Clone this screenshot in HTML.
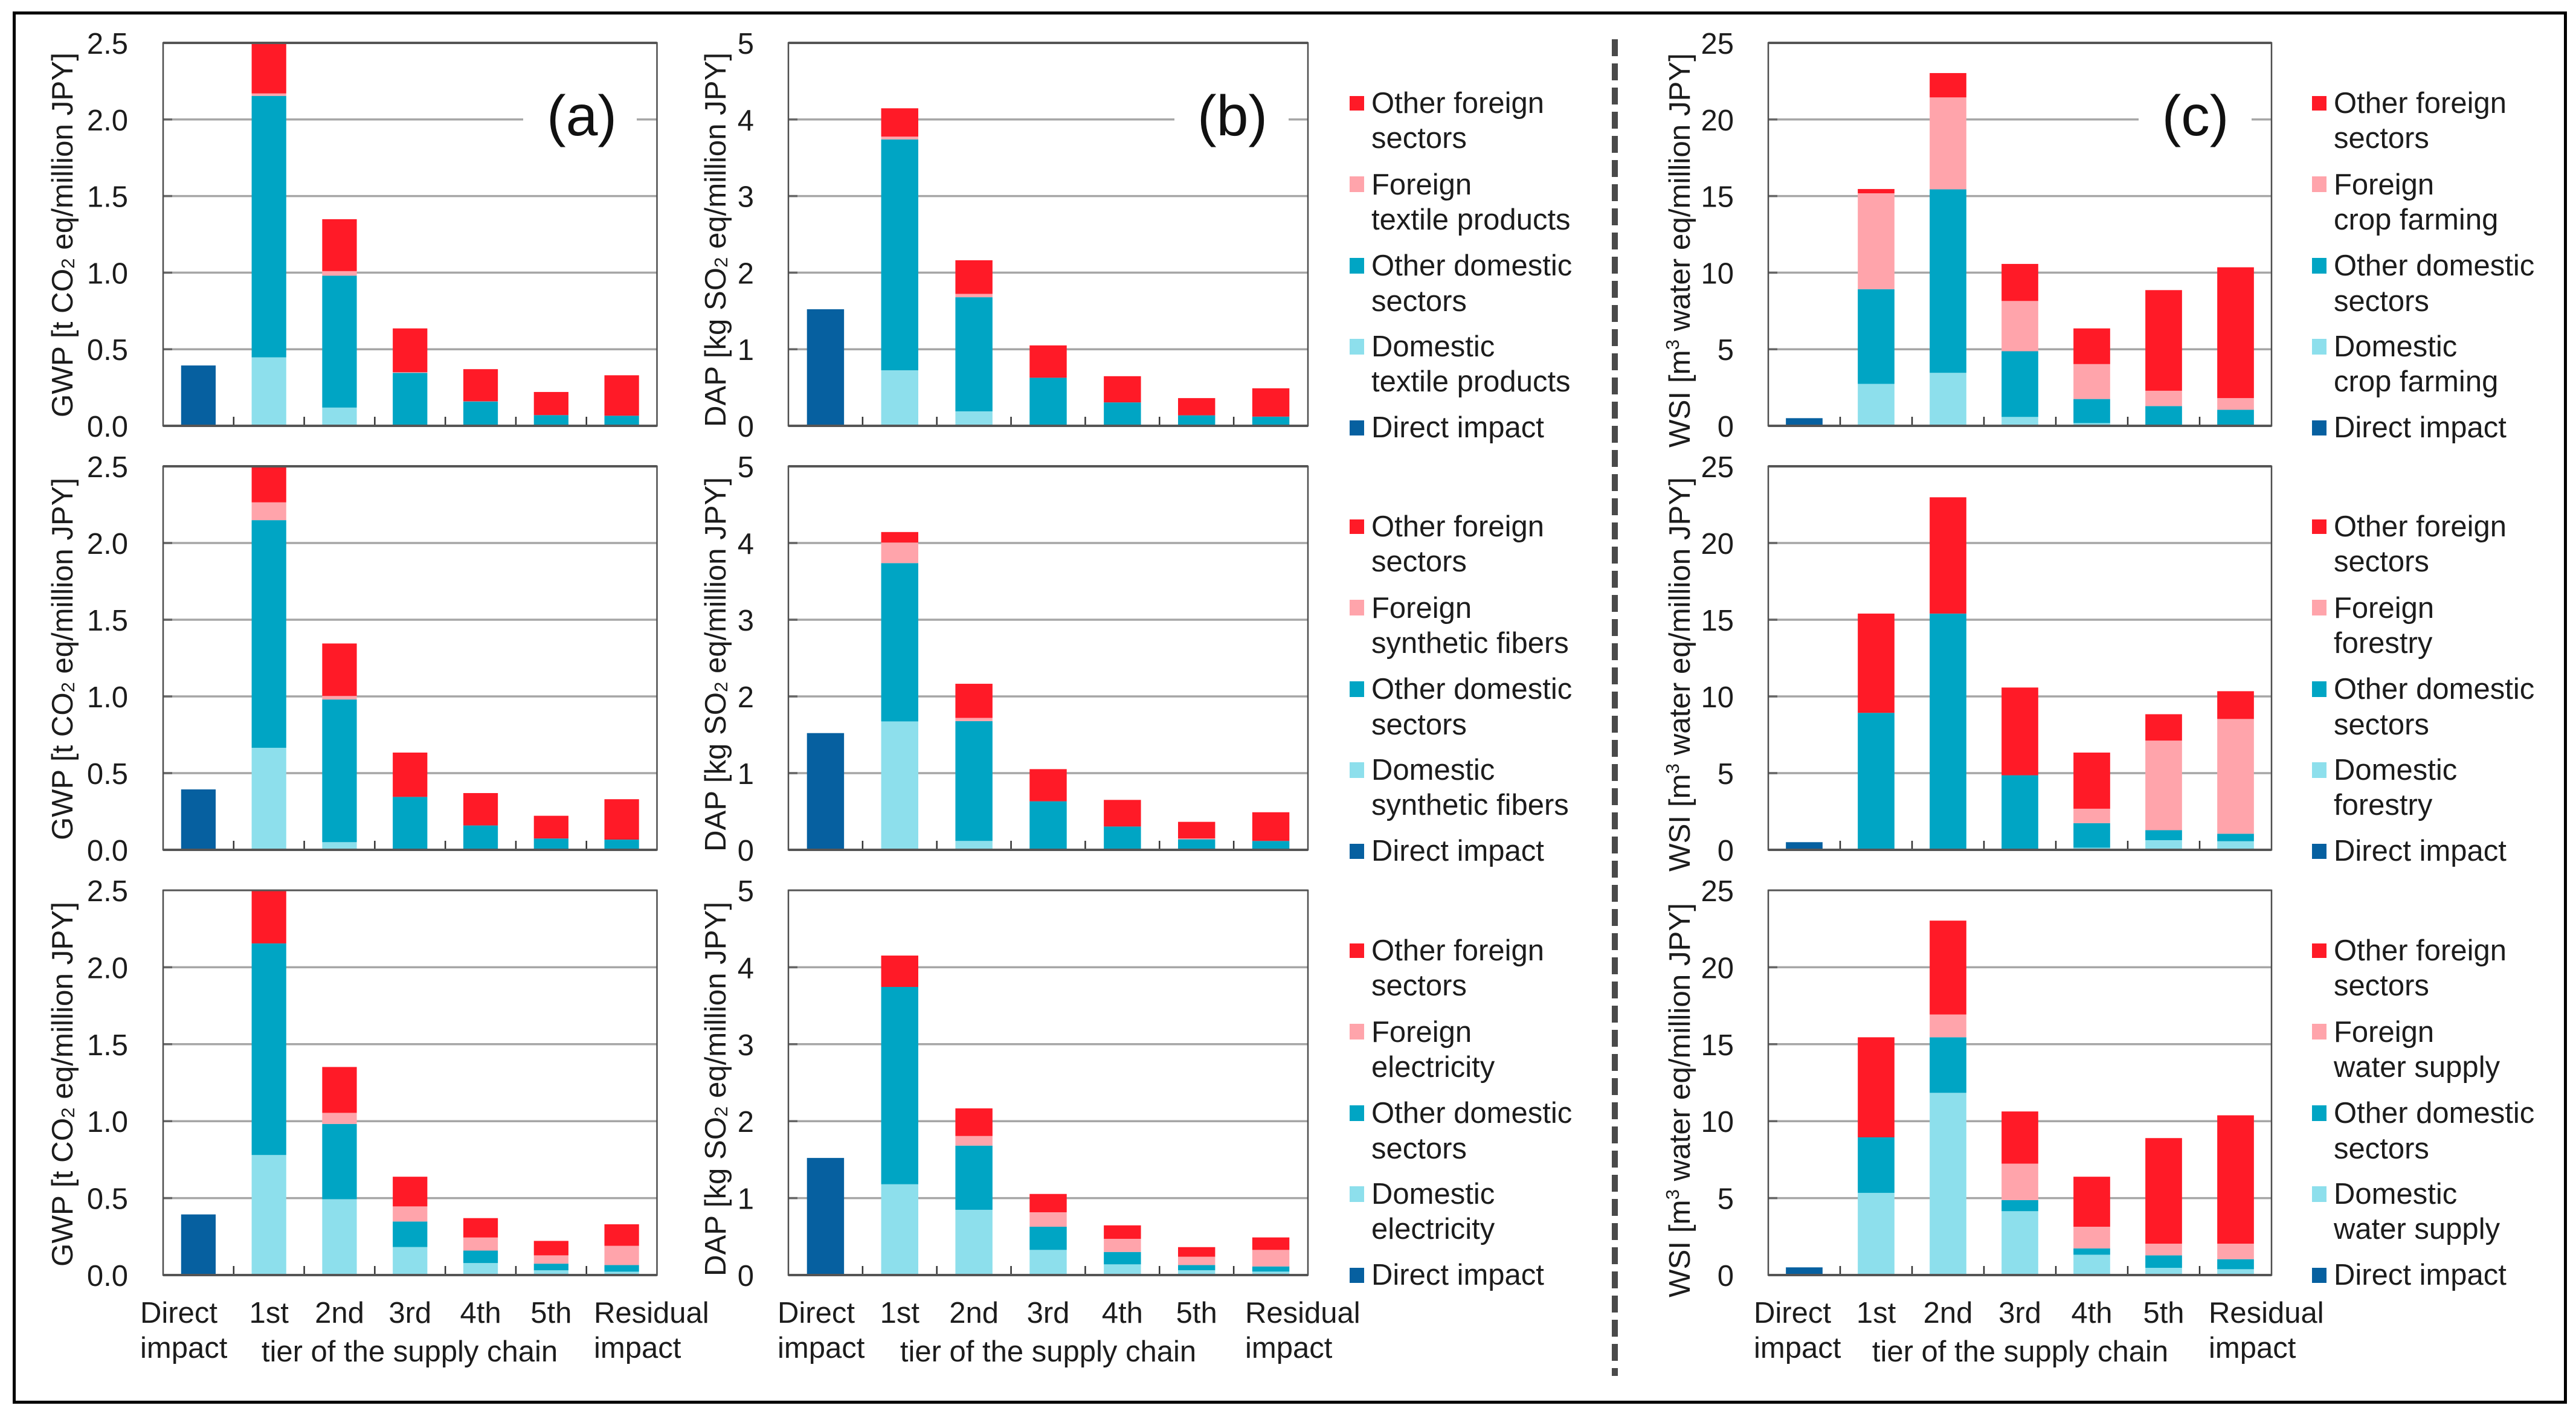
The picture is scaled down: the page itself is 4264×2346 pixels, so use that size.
<!DOCTYPE html>
<html lang="en">
<head>
<meta charset="utf-8">
<title>Supply chain impact by tier</title>
<style>
html,body{margin:0;padding:0;background:#fff;}
svg{display:block;}
text{font-family:"Liberation Sans",Arial,sans-serif;font-size:49px;fill:#1c1c1c;}
.panel-letter{font-size:95px;fill:#111;}
.sw-red{fill:#ff1a27;}.sw-for{fill:#ffa4ab;}.sw-od{fill:#00a5c4;}.sw-dom{fill:#8ddfec;}.sw-dir{fill:#0660a0;}
</style>
</head>
<body>
<svg id="figure" xmlns="http://www.w3.org/2000/svg" width="4264" height="2346" viewBox="0 0 4264 2346">
<rect x="0" y="0" width="4264" height="2346" fill="#fff"/>
<rect x="23.5" y="21.5" width="4223" height="2300" fill="none" stroke="#000" stroke-width="5"/>
<line x1="2673" y1="65" x2="2673" y2="2278" stroke="#4a4a4a" stroke-width="10" stroke-dasharray="28 12"/>

<g id="plots"></g>

<!-- y axis titles -->
<text transform="translate(120,691) rotate(-90)" textLength="604" lengthAdjust="spacingAndGlyphs">GWP [t CO<tspan font-size="31" dy="3">2</tspan><tspan dy="-3"> eq/million JPY]</tspan></text>
<text transform="translate(120,1391) rotate(-90)" textLength="600" lengthAdjust="spacingAndGlyphs">GWP [t CO<tspan font-size="31" dy="3">2</tspan><tspan dy="-3"> eq/million JPY]</tspan></text>
<text transform="translate(120,2097) rotate(-90)" textLength="604" lengthAdjust="spacingAndGlyphs">GWP [t CO<tspan font-size="31" dy="3">2</tspan><tspan dy="-3"> eq/million JPY]</tspan></text>
<text transform="translate(1201,707) rotate(-90)" textLength="620" lengthAdjust="spacingAndGlyphs">DAP [kg SO<tspan font-size="31" dy="3">2</tspan><tspan dy="-3"> eq/million JPY]</tspan></text>
<text transform="translate(1201,1410) rotate(-90)" textLength="620" lengthAdjust="spacingAndGlyphs">DAP [kg SO<tspan font-size="31" dy="3">2</tspan><tspan dy="-3"> eq/million JPY]</tspan></text>
<text transform="translate(1201,2113) rotate(-90)" textLength="620" lengthAdjust="spacingAndGlyphs">DAP [kg SO<tspan font-size="31" dy="3">2</tspan><tspan dy="-3"> eq/million JPY]</tspan></text>
<text transform="translate(2797,741) rotate(-90)" textLength="653" lengthAdjust="spacingAndGlyphs">WSI [m<tspan font-size="31" dy="-18">3</tspan><tspan dy="18"> water eq/million JPY]</tspan></text>
<text transform="translate(2797,1443) rotate(-90)" textLength="653" lengthAdjust="spacingAndGlyphs">WSI [m<tspan font-size="31" dy="-18">3</tspan><tspan dy="18"> water eq/million JPY]</tspan></text>
<text transform="translate(2797,2148) rotate(-90)" textLength="653" lengthAdjust="spacingAndGlyphs">WSI [m<tspan font-size="31" dy="-18">3</tspan><tspan dy="18"> water eq/million JPY]</tspan></text>

<!-- x axis labels: panel a -->
<text x="232" y="2190">Direct</text>
<text x="232" y="2248">impact</text>
<text x="983" y="2190">Residual</text>
<text x="983" y="2248">impact</text>
<text x="678" y="2254" text-anchor="middle">tier of the supply chain</text>
<!-- x axis labels: panel b -->
<text x="1287" y="2190">Direct</text>
<text x="1287" y="2248">impact</text>
<text x="2061" y="2190">Residual</text>
<text x="2061" y="2248">impact</text>
<text x="1735" y="2254" text-anchor="middle">tier of the supply chain</text>
<!-- x axis labels: panel c -->
<text x="2903" y="2190">Direct</text>
<text x="2903" y="2248">impact</text>
<text x="3656" y="2190">Residual</text>
<text x="3656" y="2248">impact</text>
<text x="3344" y="2254" text-anchor="middle">tier of the supply chain</text>

<!-- legends -->
<g transform="translate(2234,73)">
<rect class="sw-red" x="0" y="86" width="24" height="24"/><text x="36" y="114">Other foreign</text><text x="36" y="172">sectors</text>
<rect class="sw-for" x="0" y="219" width="24" height="26"/><text x="36" y="249">Foreign</text><text x="36" y="307">textile products</text>
<rect class="sw-od" x="0" y="354" width="24" height="26"/><text x="36" y="383">Other domestic</text><text x="36" y="442">sectors</text>
<rect class="sw-dom" x="0" y="488" width="24" height="26"/><text x="36" y="517">Domestic</text><text x="36" y="575">textile products</text>
<rect class="sw-dir" x="0" y="623" width="24" height="25"/><text x="36" y="651">Direct impact</text>
</g>
<g transform="translate(2234,774)">
<rect class="sw-red" x="0" y="86" width="24" height="24"/><text x="36" y="114">Other foreign</text><text x="36" y="172">sectors</text>
<rect class="sw-for" x="0" y="219" width="24" height="26"/><text x="36" y="249">Foreign</text><text x="36" y="307">synthetic fibers</text>
<rect class="sw-od" x="0" y="354" width="24" height="26"/><text x="36" y="383">Other domestic</text><text x="36" y="442">sectors</text>
<rect class="sw-dom" x="0" y="488" width="24" height="26"/><text x="36" y="517">Domestic</text><text x="36" y="575">synthetic fibers</text>
<rect class="sw-dir" x="0" y="623" width="24" height="25"/><text x="36" y="651">Direct impact</text>
</g>
<g transform="translate(2234,1476)">
<rect class="sw-red" x="0" y="86" width="24" height="24"/><text x="36" y="114">Other foreign</text><text x="36" y="172">sectors</text>
<rect class="sw-for" x="0" y="219" width="24" height="26"/><text x="36" y="249">Foreign</text><text x="36" y="307">electricity</text>
<rect class="sw-od" x="0" y="354" width="24" height="26"/><text x="36" y="383">Other domestic</text><text x="36" y="442">sectors</text>
<rect class="sw-dom" x="0" y="488" width="24" height="26"/><text x="36" y="517">Domestic</text><text x="36" y="575">electricity</text>
<rect class="sw-dir" x="0" y="623" width="24" height="25"/><text x="36" y="651">Direct impact</text>
</g>
<g transform="translate(3827,73)">
<rect class="sw-red" x="0" y="86" width="24" height="24"/><text x="36" y="114">Other foreign</text><text x="36" y="172">sectors</text>
<rect class="sw-for" x="0" y="219" width="24" height="26"/><text x="36" y="249">Foreign</text><text x="36" y="307">crop farming</text>
<rect class="sw-od" x="0" y="354" width="24" height="26"/><text x="36" y="383">Other domestic</text><text x="36" y="442">sectors</text>
<rect class="sw-dom" x="0" y="488" width="24" height="26"/><text x="36" y="517">Domestic</text><text x="36" y="575">crop farming</text>
<rect class="sw-dir" x="0" y="623" width="24" height="25"/><text x="36" y="651">Direct impact</text>
</g>
<g transform="translate(3827,774)">
<rect class="sw-red" x="0" y="86" width="24" height="24"/><text x="36" y="114">Other foreign</text><text x="36" y="172">sectors</text>
<rect class="sw-for" x="0" y="219" width="24" height="26"/><text x="36" y="249">Foreign</text><text x="36" y="307">forestry</text>
<rect class="sw-od" x="0" y="354" width="24" height="26"/><text x="36" y="383">Other domestic</text><text x="36" y="442">sectors</text>
<rect class="sw-dom" x="0" y="488" width="24" height="26"/><text x="36" y="517">Domestic</text><text x="36" y="575">forestry</text>
<rect class="sw-dir" x="0" y="623" width="24" height="25"/><text x="36" y="651">Direct impact</text>
</g>
<g transform="translate(3827,1476)">
<rect class="sw-red" x="0" y="86" width="24" height="24"/><text x="36" y="114">Other foreign</text><text x="36" y="172">sectors</text>
<rect class="sw-for" x="0" y="219" width="24" height="26"/><text x="36" y="249">Foreign</text><text x="36" y="307">water supply</text>
<rect class="sw-od" x="0" y="354" width="24" height="26"/><text x="36" y="383">Other domestic</text><text x="36" y="442">sectors</text>
<rect class="sw-dom" x="0" y="488" width="24" height="26"/><text x="36" y="517">Domestic</text><text x="36" y="575">water supply</text>
<rect class="sw-dir" x="0" y="623" width="24" height="25"/><text x="36" y="651">Direct impact</text>
</g>
</svg>

<script>
// ---- shared categories and ticks ----
const tierLabels = ["1st","2nd","3rd","4th","5th"];
const gwpTicks = ["0.0","0.5","1.0","1.5","2.0","2.5"];
const dapTicks = ["0","1","2","3","4","5"];
const wsiTicks = ["0","5","10","15","20","25"];

// ---- direct impact (first category only) ----
const gwpDirect = [0.394,0,0,0,0,0,0];
const dapDirect = [1.522,0,0,0,0,0,0];
const wsiDirect = [0.5,0,0,0,0,0,0];

// ---- GWP, textile products ----
const gwpTextileDomestic = [0,0.447,0.119,0,0,0,0];
const gwpTextileOtherDom = [0,1.707,0.861,0.346,0.159,0.07,0.066];
const gwpTextileForeign  = [0,0.016,0.03,0.004,0.001,0,0];
const gwpTextileOtherFor = [0,0.33,0.339,0.286,0.21,0.151,0.264];
// ---- GWP, synthetic fibers ----
const gwpFiberDomestic = [0,0.665,0.05,0,0,0,0];
const gwpFiberOtherDom = [0,1.484,0.93,0.345,0.159,0.074,0.067];
const gwpFiberForeign  = [0,0.116,0.023,0,0,0,0];
const gwpFiberOtherFor = [0,0.235,0.342,0.289,0.211,0.148,0.263];
// ---- GWP, electricity ----
const gwpElecDomestic = [0,0.78,0.493,0.182,0.078,0.031,0.022];
const gwpElecOtherDom = [0,1.375,0.489,0.166,0.081,0.043,0.043];
const gwpElecForeign  = [0,0,0.072,0.098,0.085,0.054,0.125];
const gwpElecOtherFor = [0,0.345,0.298,0.193,0.126,0.094,0.14];

// ---- DAP, textile products ----
const dapTextileDomestic = [0,0.725,0.189,0,0,0,0];
const dapTextileOtherDom = [0,3.015,1.49,0.628,0.306,0.137,0.12];
const dapTextileForeign  = [0,0.036,0.044,0,0,0,0];
const dapTextileOtherFor = [0,0.37,0.439,0.422,0.342,0.225,0.37];
// ---- DAP, synthetic fibers ----
const dapFiberDomestic = [0,1.674,0.116,0,0,0,0];
const dapFiberOtherDom = [0,2.064,1.562,0.633,0.304,0.137,0.116];
const dapFiberForeign  = [0,0.268,0.042,0,0,0.011,0];
const dapFiberOtherFor = [0,0.137,0.445,0.419,0.347,0.217,0.374];
// ---- DAP, electricity ----
const dapElecDomestic = [0,1.18,0.848,0.327,0.139,0.063,0.045];
const dapElecOtherDom = [0,2.564,0.834,0.301,0.161,0.067,0.067];
const dapElecForeign  = [0,0,0.125,0.188,0.171,0.108,0.215];
const dapElecOtherFor = [0,0.408,0.359,0.238,0.175,0.125,0.162];

// ---- WSI, crop farming ----
const wsiCropDomestic = [0,2.74,3.46,0.58,0.18,0.06,0];
const wsiCropOtherDom = [0,6.18,11.98,4.29,1.57,1.23,1.05];
const wsiCropForeign  = [0,6.26,6.0,3.28,2.28,1.0,0.76];
const wsiCropOtherFor = [0,0.28,1.59,2.42,2.33,6.57,8.54];
// ---- WSI, forestry ----
const wsiForestDomestic = [0,0,0,0,0.14,0.63,0.56];
const wsiForestOtherDom = [0,8.93,15.4,4.86,1.6,0.65,0.49];
const wsiForestForeign  = [0,0,0,0,0.94,5.84,7.48];
const wsiForestOtherFor = [0,6.47,7.58,5.72,3.66,1.72,1.81];
// ---- WSI, water supply ----
const wsiWaterDomestic = [0,5.34,11.84,4.15,1.32,0.47,0.38];
const wsiWaterOtherDom = [0,3.61,3.61,0.72,0.41,0.81,0.65];
const wsiWaterForeign  = [0,0,1.48,2.37,1.41,0.76,1.01];
const wsiWaterOtherFor = [0,6.5,6.1,3.39,3.25,6.86,8.34];

// ---- layout ----
const NS = "http://www.w3.org/2000/svg";
const seriesColors = ["#0660a0","#8ddfec","#00a5c4","#ffa4ab","#ff1a27"];
const seriesNames = ["direct","domestic","other-domestic","foreign","other-foreign"];
const rowBands = [[71,705],[772,1407],[1474,2111]];
const columns = [
  {key:"gwp", left:270, right:1087.5, labelRight:212, ticks:gwpTicks, max:2.5, direct:gwpDirect, barFrac:0.49,
   rows:[[gwpTextileDomestic,gwpTextileOtherDom,gwpTextileForeign,gwpTextileOtherFor],
         [gwpFiberDomestic,gwpFiberOtherDom,gwpFiberForeign,gwpFiberOtherFor],
         [gwpElecDomestic,gwpElecOtherDom,gwpElecForeign,gwpElecOtherFor]],
   letter:"(a)", letterX:963, gapL:866, gapR:1054},
  {key:"dap", left:1305, right:2165, labelRight:1248, ticks:dapTicks, max:5, direct:dapDirect, barFrac:0.5,
   rows:[[dapTextileDomestic,dapTextileOtherDom,dapTextileForeign,dapTextileOtherFor],
         [dapFiberDomestic,dapFiberOtherDom,dapFiberForeign,dapFiberOtherFor],
         [dapElecDomestic,dapElecOtherDom,dapElecForeign,dapElecOtherFor]],
   letter:"(b)", letterX:2040, gapL:1944, gapR:2133},
  {key:"wsi", left:2927, right:3760, labelRight:2870, ticks:wsiTicks, max:25, direct:wsiDirect, barFrac:0.51,
   rows:[[wsiCropDomestic,wsiCropOtherDom,wsiCropForeign,wsiCropOtherFor],
         [wsiForestDomestic,wsiForestOtherDom,wsiForestForeign,wsiForestOtherFor],
         [wsiWaterDomestic,wsiWaterOtherDom,wsiWaterForeign,wsiWaterOtherFor]],
   letter:"(c)", letterX:3634, gapL:3540, gapR:3727}
];

const plots = document.getElementById("plots");
function node(parent, tag, attrs, txt){
  const el = document.createElementNS(NS, tag);
  for (const k in attrs) el.setAttribute(k, attrs[k]);
  if (txt !== undefined) el.textContent = txt;
  parent.appendChild(el);
  return el;
}

columns.forEach(function(col){
  const catW = (col.right - col.left) / 7;
  const xCenter = function(i){ return col.left + catW * (i + 0.5); };
  const barW = catW * col.barFrac;

  col.rows.forEach(function(rowSeries, r){
    const top = rowBands[r][0], bottom = rowBands[r][1];
    const yScale = function(v){ return bottom - (v / col.max) * (bottom - top); };
    const g = node(plots, "g", {});
    
    

    // gridlines + y ticks + labels
    col.ticks.forEach(function(label){
      const v = Number(label);
      const y = yScale(v);
      if (v > 0 && v < col.max) {
        const gl = node(g, "line", {x1:col.left, x2:col.right, y1:y, y2:y, stroke:"#a6a6a6", "stroke-width":3.5});
        
        
        const tk = node(g, "line", {x1:col.left, x2:col.left + 15, y1:y, y2:y, stroke:"#666", "stroke-width":3.5});
        
        
      }
      const tl = node(g, "text", {x:col.labelRight, y:y + 18, "text-anchor":"end"}, label);
      
      
    });

    // panel letter with white knock-out on the first row
    if (r === 0) {
      const bgY = yScale(col.max * 0.8);
      const ko = node(g, "rect", {x:col.gapL, y:bgY - 6, width:col.gapR - col.gapL, height:12, fill:"#fff"});
      
      
      const pl = node(g, "text", {x:col.letterX, y:224, "text-anchor":"middle", "class":"panel-letter"}, col.letter);
      
      
    }

    // stacked bars
    const stacks = [col.direct].concat(rowSeries);
    for (let i = 0; i < 7; i++) {
      let base = 0;
      stacks.forEach(function(series, s){
        const val = series[i];
        if (val <= 0) return;
        const y1 = yScale(base), y0 = yScale(base + val);
        const b = node(g, "rect", {x:xCenter(i) - barW / 2, y:y0, width:barW, height:y1 - y0, fill:seriesColors[s]});
        
        
        base += val;
      });
    }

    // x ticks
    for (let i = 1; i < 7; i++) {
      const xt = col.left + catW * i;
      const t = node(g, "line", {x1:xt, x2:xt, y1:bottom - 15, y2:bottom, stroke:"#333", "stroke-width":2.5});
      
      
    }

    // plot border
    const border = node(g, "rect", {x:col.left, y:top, width:col.right - col.left, height:bottom - top, fill:"none", stroke:"#4d4d4d", "stroke-width":2.5});
    
    
    const topLine = node(g, "line", {x1:col.left, x2:col.right, y1:top, y2:top, stroke:"#555", "stroke-width":r === 2 ? 3 : 4});
    
    
    const axisLine = node(g, "line", {x1:col.left, x2:col.right, y1:bottom, y2:bottom, stroke:"#555", "stroke-width":4});
    
    

    // tier labels below the last row
    if (r === 2) {
      tierLabels.forEach(function(label, i){
        const tl = node(g, "text", {x:xCenter(i + 1), y:2190, "text-anchor":"middle"}, label);
        
        
      });
    }
  });
});
</script>
</body>
</html>
